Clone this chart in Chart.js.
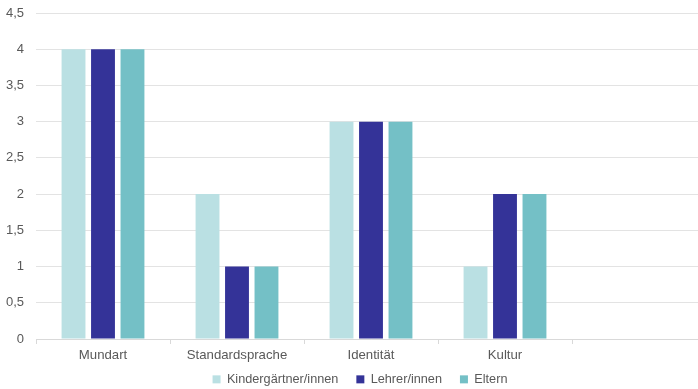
<!DOCTYPE html>
<html>
<head>
<meta charset="utf-8">
<script src="https://cdn.jsdelivr.net/npm/chart.js@4/dist/chart.umd.min.js"></script>
<style>
  html, body { margin: 0; padding: 0; background: #fff; overflow: hidden; }
  #wrap { width: 722px; height: 389px; }
</style>
</head>
<body>
<div id="wrap"><canvas id="chart"></canvas></div>
<script>
const categories = ['Mundart', 'Standardsprache', 'Identität', 'Kultur', ''];
const kindergaertner = [4, 2, 3, 1, null];
const lehrer = [4, 1, 3, 2, null];
const eltern = [4, 1, 3, 2, null];
const yTicks = [0, 0.5, 1, 1.5, 2, 2.5, 3, 3.5, 4, 4.5];

const txt = '#595959';

// legend.labels.padding is both the gap between items and the vertical margin,
// so fix its block height and nudge the drawing to keep the wide item gaps
const legendFit = {
  id: 'legendFit',
  beforeUpdate(chart) {
    const lg = chart.legend;
    if (lg && !lg._fixed) {
      const fit = lg.fit;
      lg.fit = function () { fit.call(this); this.height = 20; };
      if (typeof lg._draw === 'function') {
        lg.draw = function () {
          if (!this.options.display) return;
          const c = this.ctx;
          c.save();
          c.translate(7, -14);
          this._draw();
          c.restore();
        };
      }
      lg._fixed = true;
    }
  },
};

const ctx = document.getElementById('chart').getContext('2d');
new Chart(ctx, {
  type: 'bar',
  data: {
    labels: categories,
    datasets: [
      { label: 'Kindergärtner/innen', data: kindergaertner, backgroundColor: '#bae0e3' },
      { label: 'Lehrer/innen', data: lehrer, backgroundColor: '#343398' },
      { label: 'Eltern', data: eltern, backgroundColor: '#74c0c6' },
    ],
  },
  plugins: [legendFit],
  options: {
    responsive: true,
    maintainAspectRatio: false,
    animation: false,
    layout: { padding: { top: 13, right: 16, left: 0, bottom: 0 } },
    datasets: {
      bar: { categoryPercentage: 0.66, barPercentage: 0.81 },
    },
    plugins: {
      legend: {
        position: 'bottom',
        labels: {
          boxWidth: 8,
          boxHeight: 8,
          padding: 18,
          color: txt,
          font: { family: 'Liberation Sans', size: 12.7 },
        },
      },
      tooltip: { enabled: false },
    },
    scales: {
      x: {
        afterFit: (axis) => { axis.height = 30; },
        grid: { offset: true, drawOnChartArea: false, tickLength: 5, color: '#d9d9d9' },
        border: { color: '#d9d9d9' },
        ticks: { color: txt, font: { family: 'Liberation Sans', size: 13.2 }, padding: 3 },
      },
      y: {
        min: 0,
        max: 4.5,
        afterBuildTicks: (axis) => { axis.ticks = yTicks.map(v => ({ value: v })); },
        afterFit: (axis) => { axis.width = 36; axis.paddingTop = 0; axis.paddingBottom = 0; },
        grid: { color: '#e3e3e3', drawTicks: false },
        border: { display: false },
        ticks: {
          color: txt,
          padding: 12,
          font: { family: 'Liberation Sans', size: 13 },
          callback: (v) => String(v).replace('.', ','),
        },
      },
    },
  },
});
</script>
</body>
</html>
